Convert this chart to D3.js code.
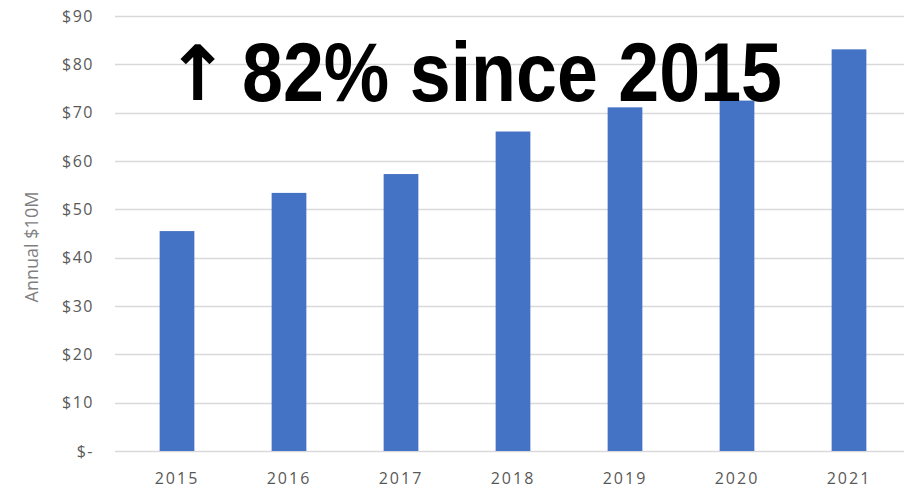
<!DOCTYPE html>
<html>
<head>
<meta charset="utf-8">
<script src="https://cdn.jsdelivr.net/npm/d3@7"></script>
<style>
  body { margin: 0; background: #fff; }
  svg { display: block; }
</style>
</head>
<body>
<svg id="chart"></svg>
<script>
// chart data
const years = ["2015", "2016", "2017", "2018", "2019", "2020", "2021"];
const annualValues = [45.5, 53.4, 57.3, 66.1, 71.1, 72.5, 83.1];
const yTicks = [0, 10, 20, 30, 40, 50, 60, 70, 80, 90];
const headlineArrow = "↑";
const headline = "82% since 2015";
const yTitle = "Annual $10M";

const width = 904;
const height = 495;

const svg = d3.select("#chart")
              .attr("width", width)
              .attr("height", height);

const x = d3.scaleBand()
            .domain(years)
            .range([121, 905])
            .paddingInner(0.69)
            .paddingOuter(0.345);

const y = d3.scaleLinear()
            .domain([0, 90])
            .range([451, 16]);

// gridlines
svg.append("g")
   .selectAll("line")
   .data(yTicks)
   .enter()
   .append("line")
   .attr("x1", 115)
   .attr("x2", width)
   .attr("y1", d => Math.round(y(d)) + 0.5)
   .attr("y2", d => Math.round(y(d)) + 0.5)
   .attr("stroke", "#d9d9d9")
   .attr("stroke-width", 1.5);

// y axis labels
const yAxis = svg.append("g")
                 .attr("transform", "translate(94,0)")
                 .call(d3.axisLeft(y)
                         .tickValues(yTicks)
                         .tickSize(0)
                         .tickPadding(0)
                         .tickFormat(d => d === 0 ? "$-" : "$" + d));
yAxis.select(".domain").remove();
yAxis.selectAll("text")
     .attr("font-family", "'Open Sans', sans-serif")
     .attr("font-size", 16)
     .attr("letter-spacing", 1.5)
     .attr("fill", "#595959");

// bars
svg.append("g")
   .selectAll("rect")
   .data(annualValues)
   .enter()
   .append("rect")
   .attr("x", (d, i) => x(years[i]))
   .attr("width", x.bandwidth())
   .attr("y", d => y(d))
   .attr("height", d => y(0) - y(d))
   .attr("fill", "#4472c4");

// x axis labels
const xAxis = svg.append("g")
                 .attr("transform", "translate(0,473)")
                 .call(d3.axisBottom(x).tickSize(0).tickPadding(0));
xAxis.select(".domain").remove();
xAxis.selectAll("text")
     .attr("font-family", "'Open Sans', sans-serif")
     .attr("font-size", 16)
     .attr("letter-spacing", 2)
     .attr("fill", "#595959");

// y axis title
svg.append("text")
   .attr("transform", "translate(38,247) rotate(-90)")
   .attr("text-anchor", "middle")
   .attr("font-family", "'Open Sans', sans-serif")
   .attr("font-size", 18)
   .attr("fill", "#7f7f7f")
   .text(yTitle);

// headline (arrow drawn separately so it stays bold)
svg.append("text")
   .attr("x", 166)
   .attr("y", 100)
   .attr("font-family", "'DejaVu Sans', sans-serif")
   .attr("font-weight", "bold")
   .attr("font-size", 76)
   .attr("fill", "#000")
   .text(headlineArrow);

svg.append("text")
   .attr("x", 242)
   .attr("y", 101)
   .attr("font-family", "'Liberation Sans', Arial, sans-serif")
   .attr("font-weight", "bold")
   .attr("font-size", 84)
   .attr("fill", "#000")
   .attr("textLength", 540)
   .attr("lengthAdjust", "spacingAndGlyphs")
   .text(headline);
</script>
</body>
</html>
